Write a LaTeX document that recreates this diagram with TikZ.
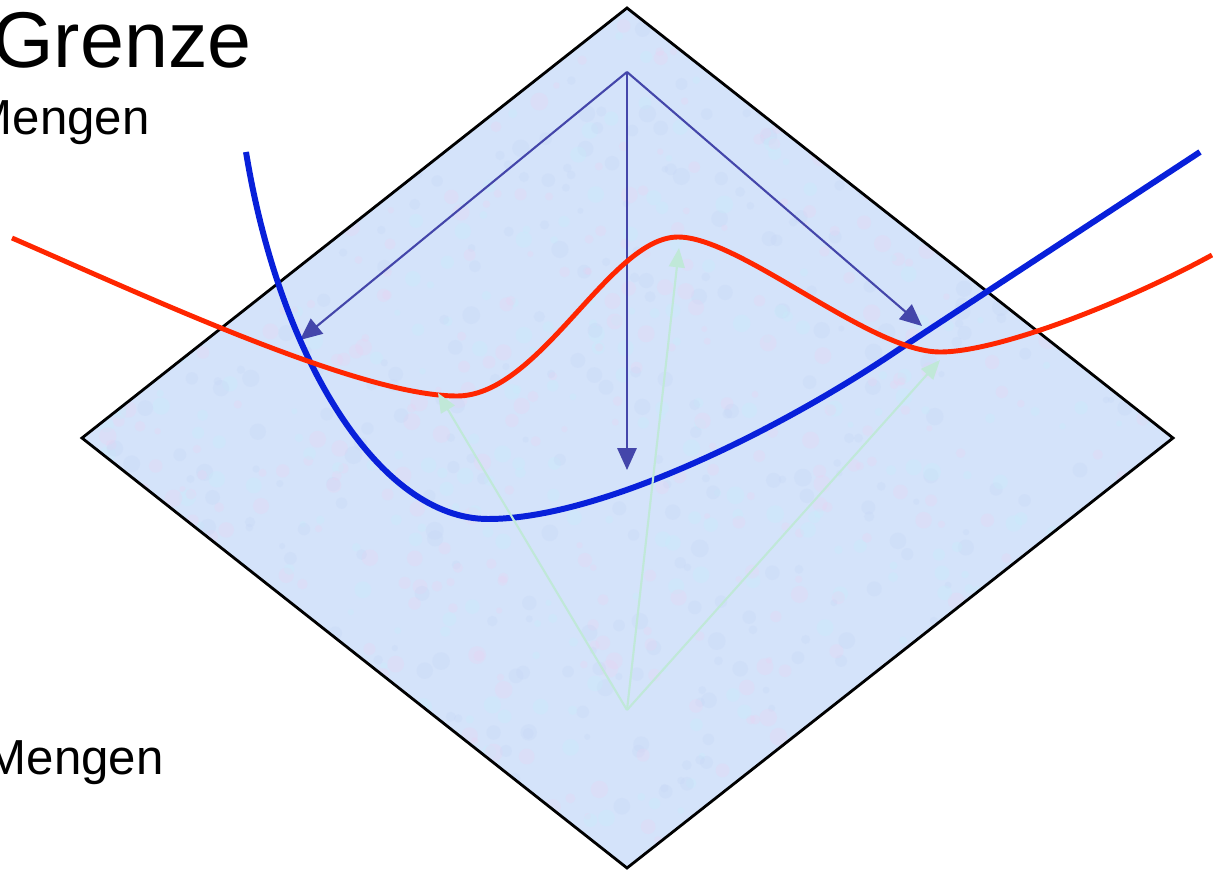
\documentclass[tikz,border=0pt]{standalone}
\usepackage{fontspec}
\setmainfont{Liberation Sans}
\usetikzlibrary{arrows.meta}
\definecolor{planefill}{RGB}{212,227,250}
\definecolor{texA}{RGB}{232,212,242}
\definecolor{texB}{RGB}{200,236,250}
\definecolor{texC}{RGB}{196,212,246}
\definecolor{darkarrow}{RGB}{68,70,170}
\definecolor{mint}{RGB}{192,232,216}
\definecolor{redcurve}{RGB}{255,38,0}
\definecolor{bluecurve}{RGB}{8,32,218}
\tikzset{
  plane/.style={draw=black, line width=1.6pt, line join=miter},
  downarrow/.style={draw=darkarrow, line width=1.2pt, -{Triangle[length=12.5pt,width=11pt]}},
  uparrow/.style={draw=mint, line width=1.2pt, -{Triangle[length=11pt,width=9pt]}},
  redline/.style={draw=redcurve, line width=2.8pt},
  blueline/.style={draw=bluecurve, line width=3.4pt},
  title/.style={font=\fontsize{45}{50}\selectfont, inner sep=0pt, anchor=base east},
  label/.style={font=\fontsize{28}{32}\selectfont, inner sep=0pt, anchor=base east}
}
\begin{document}
\begin{tikzpicture}[x=0.02cm,y=-0.02cm]
\useasboundingbox (0,0) rectangle (1213,871);
\clip (0,0) rectangle (1213,871);
% plane with subtle mottled texture
\begin{scope}
  \clip (627,8) -- (1173,438) -- (627,868) -- (82,438) -- cycle;
  \fill[planefill] (627,8) -- (1173,438) -- (627,868) -- (82,438) -- cycle;
  \pgfmathsetseed{11}
  \foreach \i in {1,...,1400} {
    \pgfmathsetmacro\px{82+rnd*1091}
    \pgfmathsetmacro\py{8+rnd*860}
    \pgfmathsetmacro\pr{3+rnd*6}
    \pgfmathtruncatemacro\pc{random(1,3)}
    \ifcase\pc\or
      \fill[texA, opacity=0.3] (\px,\py) circle[radius=\pr];
    \or
      \fill[texB, opacity=0.35] (\px,\py) circle[radius=\pr];
    \or
      \fill[texC, opacity=0.25] (\px,\py) circle[radius=\pr];
    \fi
  }
\end{scope}
\draw[plane] (627,8) -- (1173,438) -- (627,868) -- (82,438) -- cycle;
% coordinates
\coordinate (top) at (627,72);
\coordinate (tl) at (300,340);
\coordinate (tm) at (627,470);
\coordinate (tr) at (922,326);
\coordinate (bot) at (627,710);
\coordinate (bl) at (438,393);
\coordinate (bm) at (679,248);
\coordinate (br) at (940,360);
% dark arrows
\draw[downarrow] (top) -- (tl);
\draw[downarrow] (top) -- (tm);
\draw[downarrow] (top) -- (tr);
% curves
\draw[blueline] (246,152) .. controls (280,360) and (380,519) .. (488,519)
  .. controls (600,519) and (780,430) .. (898,350) -- (1200,152);
\draw[redline] (12,238) .. controls (150,298) and (360,396) .. (457,396)
  .. controls (540,396) and (610,237) .. (678,237)
  .. controls (740,237) and (870,352) .. (940,352)
  .. controls (1000,352) and (1130,300) .. (1212,255);
% light arrows
\draw[uparrow] (bot) -- (bl);
\draw[uparrow] (bot) -- (bm);
\draw[uparrow] (bot) -- (br);
% texts
\node[title] (grenze) at (252,68) {Grenze};
\node[label] (m1) at (150,135) {Mengen};
\node[label] (m2) at (164,774) {Mengen};
\end{tikzpicture}
\end{document}
